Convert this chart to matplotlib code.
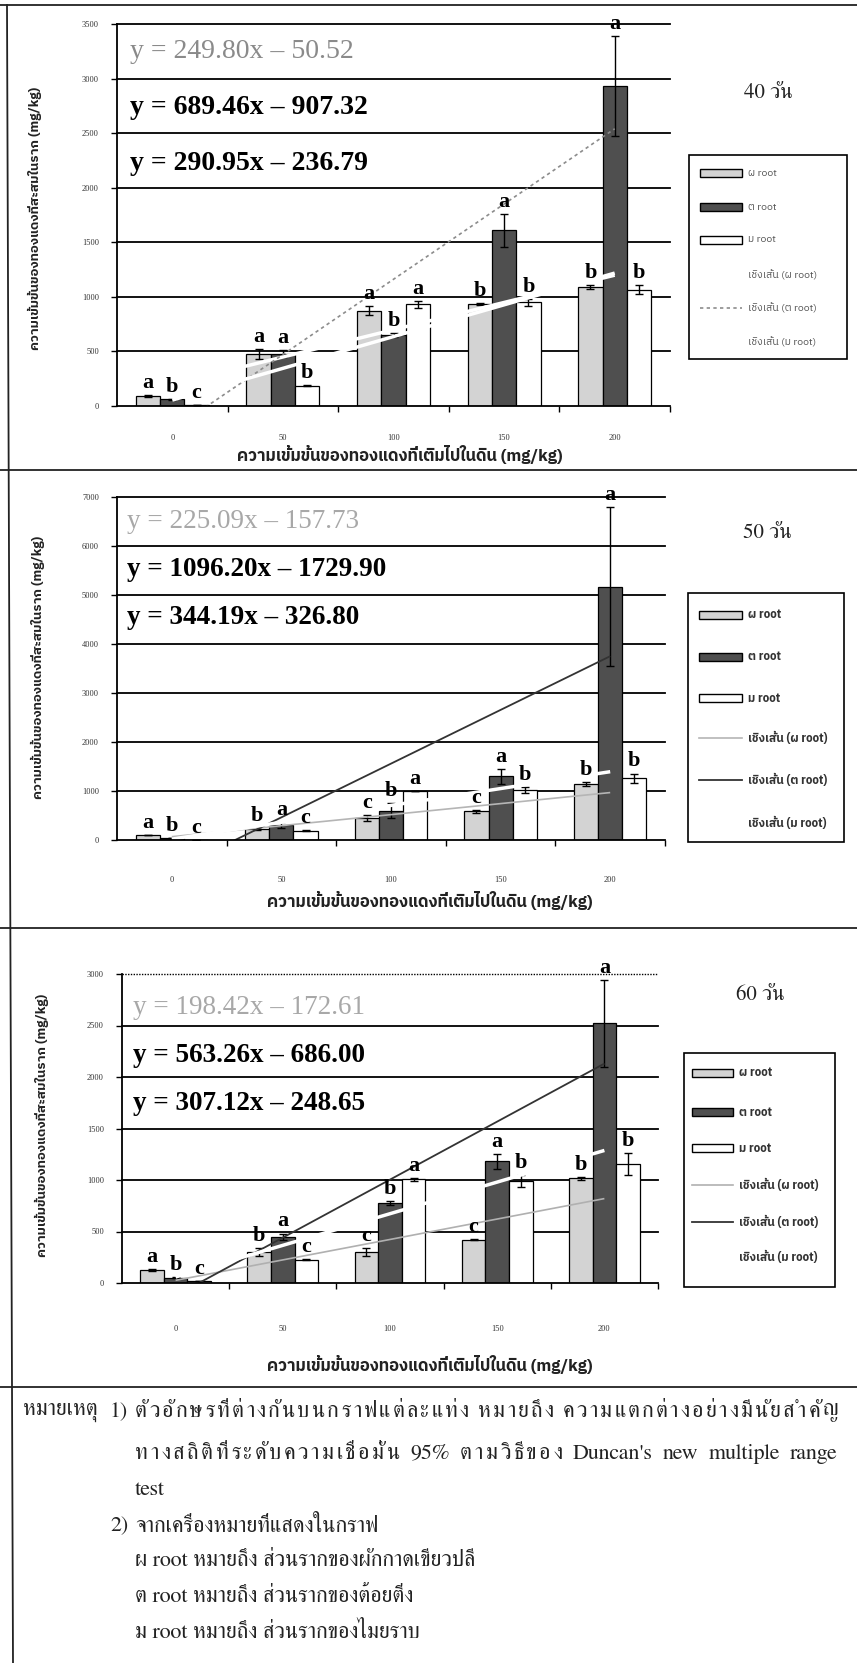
import numpy as np
import matplotlib
matplotlib.use("Agg")
import matplotlib.pyplot as plt
from matplotlib import font_manager
from matplotlib.patches import Rectangle
from matplotlib.lines import Line2D

# ---------------------------------------------------------------- data
concentrations = ["0", "50", "100", "150", "200"]
root_names = ["ผ root", "ต root", "ม root"]
trend_names = ["เชิงเส้น (ผ root)", "เชิงเส้น (ต root)", "เชิงเส้น (ม root)"]

# 40 days
d40_phak = [92, 480, 875, 935, 1090]
d40_toi = [60, 480, 650, 1610, 2930]
d40_mai = [5, 185, 930, 950, 1065]
d40_phak_err = [5, 45, 40, 10, 15]
d40_toi_err = [5, 35, 15, 150, 460]
d40_mai_err = [0, 5, 35, 30, 40]
d40_phak_sig = ["a", "a", "a", "b", "b"]
d40_toi_sig = ["b", "a", "b", "a", "a"]
d40_mai_sig = ["c", "b", "a", "b", "b"]
d40_slope = [249.80, 689.46, 290.95]
d40_icpt = [-50.52, -907.32, -236.79]

# 50 days
d50_phak = [100, 230, 450, 590, 1150]
d50_toi = [40, 300, 600, 1300, 5170]
d50_mai = [5, 190, 1000, 1020, 1256]
d50_phak_err = [5, 20, 60, 30, 40]
d50_toi_err = [5, 60, 150, 150, 1620]
d50_mai_err = [0, 10, 0, 60, 100]
d50_phak_sig = ["a", "b", "c", "c", "b"]
d50_toi_sig = ["b", "a", "b", "a", "a"]
d50_mai_sig = ["c", "c", "a", "b", "b"]
d50_slope = [225.09, 1096.20, 344.19]
d50_icpt = [-157.73, -1729.90, -326.80]

# 60 days
d60_phak = [123, 300, 300, 420, 1018]
d60_toi = [52, 450, 773, 1180, 2520]
d60_mai = [15, 227, 1007, 990, 1154]
d60_phak_err = [10, 40, 40, 5, 15]
d60_toi_err = [5, 30, 20, 70, 420]
d60_mai_err = [0, 5, 15, 60, 110]
d60_phak_sig = ["a", "b", "c", "c", "b"]
d60_toi_sig = ["b", "a", "b", "a", "a"]
d60_mai_sig = ["c", "c", "a", "b", "b"]
d60_slope = [198.42, 563.26, 307.12]
d60_icpt = [-172.61, -686.00, -248.65]

panel_titles = ["40 วัน", "50 วัน", "60 วัน"]
x_label = "ความเข้มข้นของทองแดงที่เติมไปในดิน (mg/kg)"
y_label = "ความเข้มข้นของทองแดงที่สะสมในราก (mg/kg)"

note_head = "หมายเหตุ"
note_lines = [
    ("1)", "ตัวอักษรที่ต่างกันบนกราฟแต่ละแท่ง หมายถึง ความแตกต่างอย่างมีนัยสำคัญ", True),
    ("", "ทางสถิติที่ระดับความเชื่อมั่น 95% ตามวิธีของ Duncan's new multiple range", True),
    ("", "test", False),
    ("2)", "จากเครื่องหมายที่แสดงในกราฟ", False),
    ("", "ผ root หมายถึง ส่วนรากของผักกาดเขียวปลี", False),
    ("", "ต root หมายถึง ส่วนรากของต้อยติ่ง", False),
    ("", "ม root หมายถึง ส่วนรากของไมยราบ", False),
]


# ---------------------------------------------------------------- fonts
def thai_capable_families():
    found = []
    try:
        from fontTools.ttLib import TTFont
    except Exception:
        return found
    for f in font_manager.fontManager.ttflist:
        if f.name in found:
            continue
        try:
            tt = TTFont(f.fname, fontNumber=0, lazy=True)
            cmap = tt.getBestCmap() or {}
            tt.close()
        except Exception:
            continue
        if 0x0E01 in cmap and 0x0E27 in cmap and 0x0E31 in cmap:
            found.append(f.name)
    return found


_thai = thai_capable_families()
_serif = sorted(_thai, key=lambda n: (0 if "Serif" in n else 1, n))
_sans = sorted(_thai, key=lambda n: (0 if ("Sans" in n and "Serif" not in n) else 1, n))
THAI = ([_serif[0]] if _serif else []) + ["DejaVu Sans"]
THAI_SANS = ([_sans[0]] if _sans else []) + ["DejaVu Sans"]
SERIF = ["Liberation Serif", "DejaVu Serif"]

# ---------------------------------------------------------------- layout helpers
W, H = 857, 1663
fig = plt.figure(figsize=(W / 100, H / 100), dpi=100)
fig.patch.set_facecolor("white")


def rect(l, t, r, b):
    return [l / W, 1 - b / H, (r - l) / W, (b - t) / H]


def fx(x):
    return x / W


def fy(y):
    return 1 - y / H


BAR_COLORS = ["#d3d3d3", "#4f4f4f", "#ffffff"]
BAR_W = 0.22


def draw_panel(p):
    ax = fig.add_axes(rect(*p["axes"]))
    ax.set_xlim(-0.5, 4.5)
    ax.set_ylim(0, p["ymax"])
    xs = np.arange(len(concentrations))
    offsets = [-BAR_W, 0.0, BAR_W]

    # horizontal gridlines
    ticks = np.arange(0, p["ymax"] + 1, p["ystep"])
    for t in ticks:
        if t == 0:
            continue
        top = t == ticks[-1]
        ax.axhline(t, color="black", lw=1.0 if (top and p["top_grid_ls"] != "-") else 1.3,
                   ls=p["top_grid_ls"] if top else "-", zorder=0.5, clip_on=False)

    for k in range(3):
        ax.bar(xs + offsets[k], p["vals"][k], BAR_W, color=BAR_COLORS[k],
               edgecolor="black", linewidth=0.9, zorder=2,
               yerr=p["errs"][k], capsize=3,
               error_kw=dict(ecolor="black", elinewidth=1.0, capthick=1.0, zorder=3))

    # linear trendlines, category index i corresponds to x = i + 1
    for k in range(3):
        ys = p["slope"][k] * (xs + 1) + p["icpt"][k]
        ax.plot(xs, ys, zorder=4, solid_capstyle="butt", **p["trend_style"][k])

    # significance letters
    for k in range(3):
        for i in xs:
            top = p["vals"][k][i] + p["errs"][k][i]
            ax.annotate(p["sig"][k][i], (xs[i] + offsets[k], top),
                        xytext=(0, 1.5), textcoords="offset points",
                        ha="center", va="bottom", fontsize=16,
                        fontweight="bold", family=SERIF, zorder=6,
                        annotation_clip=False)

    for s in ["top", "right"]:
        ax.spines[s].set_visible(False)
    for s in ["left", "bottom"]:
        ax.spines[s].set_linewidth(1.3)
        ax.spines[s].set_zorder(5)

    ax.set_yticks(ticks)
    ax.set_yticklabels([str(int(t)) for t in ticks], fontsize=6,
                       color="#333333", family=SERIF)
    ax.tick_params(axis="y", length=4, width=1.0, pad=p["ypad"])
    ax.set_xticks(xs)
    ax.set_xticklabels(concentrations, fontsize=6, color="#333333", family=SERIF)
    ax.tick_params(axis="x", length=0, pad=p["xpad"])
    ax.set_xticks(np.arange(0.5, 4.6, 1.0), minor=True)
    ax.tick_params(axis="x", which="minor", length=4, width=1.0, direction="out")

    # regression equations
    for k in range(3):
        m, c = p["slope"][k], p["icpt"][k]
        eq = f"y = {m:.2f}x \u2013 {abs(c):.2f}"
        ex, ey = p["eq_xy"][k]
        fig.text(fx(ex), fy(ey), eq, ha="left", va="center",
                 fontsize=p["eq_size"], family=SERIF,
                 fontweight="normal" if k == 0 else "bold",
                 color=p["eq_color0"] if k == 0 else "black")

    # panel title
    fig.text(fx(p["title_xy"][0]), fy(p["title_xy"][1]), p["title"],
             ha="center", va="center", fontsize=15, family=THAI, color="#222222")

    # axis titles
    fig.text(fx(p["ylab_xy"][0]), fy(p["ylab_xy"][1]), y_label, rotation=90,
             ha="center", va="center", fontsize=9.5, family=THAI_SANS,
             fontweight="bold", color="#222222")
    fig.text(fx(p["xlab_xy"][0]), fy(p["xlab_xy"][1]), x_label,
             ha="center", va="center", fontsize=12, family=THAI_SANS,
             fontweight="bold", color="#222222")

    # legend box
    l, t, r, b = p["legend"]
    lax = fig.add_axes(rect(l, t, r, b))
    lax.set_xlim(l, r)
    lax.set_ylim(b, t)
    lax.axis("off")
    lax.add_patch(Rectangle((l + 1, t + 1), r - l - 2, b - t - 2, fill=False,
                            edgecolor="black", lw=1.2))
    hx0, hx1 = p["legend_handle_x"]
    lw_txt = "bold" if p["legend_bold"] else "normal"
    for k in range(3):
        y = p["legend_rows"][k]
        lax.add_patch(Rectangle((hx0, y - 4), hx1 - hx0, 8, facecolor=BAR_COLORS[k],
                                edgecolor="black", lw=1.0))
        lax.text(hx1 + 6, y, root_names[k], ha="left", va="center",
                 fontsize=p["legend_fs"], family=THAI_SANS, fontweight=lw_txt,
                 color=p["legend_color"])
    for k in range(3):
        y = p["legend_rows"][k + 3]
        st = dict(p["trend_style"][k])
        st["lw"] = min(st.get("lw", 1.0), 1.3)
        lax.add_line(Line2D([hx0, hx1], [y, y], **st))
        lax.text(hx1 + 6, y, trend_names[k], ha="left", va="center",
                 fontsize=p["legend_fs"], family=THAI_SANS, fontweight=lw_txt,
                 color=p["legend_color"])
    return ax


WHITE_LINE = dict(color="white", lw=2.5)

panels = [
    dict(axes=(117, 24, 670, 406), ymax=3500, ystep=500, top_grid_ls="-",
         vals=[d40_phak, d40_toi, d40_mai],
         errs=[d40_phak_err, d40_toi_err, d40_mai_err],
         sig=[d40_phak_sig, d40_toi_sig, d40_mai_sig],
         slope=d40_slope, icpt=d40_icpt,
         trend_style=[WHITE_LINE, dict(color="#8c8c8c", lw=1.2, ls=(0, (2, 2))), WHITE_LINE],
         eq_xy=[(130, 52), (130, 108), (130, 163)], eq_size=20, eq_color0="#8a8a8a",
         title=panel_titles[0], title_xy=(768, 93),
         ylab_xy=(35, 218), xlab_xy=(400, 455), ypad=9, xpad=20,
         legend=(688, 154, 848, 360), legend_handle_x=(700, 742),
         legend_rows=[173, 207, 240, 275, 308, 342], legend_fs=7.5,
         legend_bold=False, legend_color="#555555"),
    dict(axes=(117, 497, 665, 840), ymax=7000, ystep=1000, top_grid_ls="-",
         vals=[d50_phak, d50_toi, d50_mai],
         errs=[d50_phak_err, d50_toi_err, d50_mai_err],
         sig=[d50_phak_sig, d50_toi_sig, d50_mai_sig],
         slope=d50_slope, icpt=d50_icpt,
         trend_style=[dict(color="#b5b5b5", lw=1.2), dict(color="#333333", lw=1.3), WHITE_LINE],
         eq_xy=[(127, 522), (127, 570), (127, 618)], eq_size=19.5, eq_color0="#a8a8a8",
         title=panel_titles[1], title_xy=(767, 533),
         ylab_xy=(38, 667), xlab_xy=(430, 900), ypad=9, xpad=26,
         legend=(687, 592, 845, 843), legend_handle_x=(699, 742),
         legend_rows=[615, 657, 698, 738, 780, 823], legend_fs=8.5,
         legend_bold=True, legend_color="#333333"),
    dict(axes=(122, 974, 658, 1283), ymax=3000, ystep=500, top_grid_ls=(0, (1, 1)),
         vals=[d60_phak, d60_toi, d60_mai],
         errs=[d60_phak_err, d60_toi_err, d60_mai_err],
         sig=[d60_phak_sig, d60_toi_sig, d60_mai_sig],
         slope=d60_slope, icpt=d60_icpt,
         trend_style=[dict(color="#b0b0b0", lw=1.2), dict(color="#333333", lw=1.3), WHITE_LINE],
         eq_xy=[(133, 1008), (133, 1055), (133, 1103)], eq_size=19.5, eq_color0="#a8a8a8",
         title=panel_titles[2], title_xy=(760, 995),
         ylab_xy=(42, 1125), xlab_xy=(430, 1365), ypad=9, xpad=30,
         legend=(683, 1052, 836, 1288), legend_handle_x=(692, 733),
         legend_rows=[1073, 1112, 1148, 1185, 1222, 1257], legend_fs=8.5,
         legend_bold=True, legend_color="#333333"),
]

for p in panels:
    draw_panel(p)

# ---------------------------------------------------------------- table frame + notes
frame = fig.add_axes([0, 0, 1, 1])
frame.set_xlim(0, W)
frame.set_ylim(H, 0)
frame.axis("off")
frame.set_zorder(-1)
for y in [5, 470, 928, 1387]:
    frame.plot([0, W], [y, y], color="#222222", lw=1.3)
frame.plot([7, 13], [5, H], color="#222222", lw=1.3)

NOTE_FS = 15.8
NOTE_KW = dict(va="center", fontsize=NOTE_FS, family=THAI, color="#222222")
renderer = fig.canvas.get_renderer()

# Thai above/below-base marks stay attached to the preceding base letter
THAI_MARKS = {0x0E31} | set(range(0x0E34, 0x0E3B)) | set(range(0x0E47, 0x0E4F))


def clusters(word):
    if not any(0x0E00 <= ord(ch) <= 0x0E7F for ch in word):
        return [word]
    out = []
    for ch in word:
        if out and ord(ch) in THAI_MARKS:
            out[-1] += ch
        else:
            out.append(ch)
    return out


def note_text(x0, x1, y, line, justify):
    if not justify:
        fig.text(fx(x0), fy(y), line, ha="left", **NOTE_KW)
        return
    # distributed justification: letter-spacing inside Thai words, wider gaps at spaces
    pieces, weights = [], []
    for wi, word in enumerate(line.split(" ")):
        for ci, cl in enumerate(clusters(word)):
            weights.append(0 if not pieces else (4 if ci == 0 else 1))
            pieces.append(cl)
    objs = [fig.text(0, fy(y), s, ha="left", **NOTE_KW) for s in pieces]
    widths = [o.get_window_extent(renderer).width for o in objs]
    extra = (x1 - x0) - sum(widths)
    unit = extra / max(sum(weights), 1)
    x = x0
    for o, w, wt in zip(objs, widths, weights):
        x += wt * unit
        o.set_x(fx(x))
        x += w


fig.text(fx(23), fy(1412), note_head, ha="left", **NOTE_KW)
note_y = [1412, 1454, 1490, 1526, 1561, 1597, 1633]
for (num, txt, just), y in zip(note_lines, note_y):
    if num:
        fig.text(fx(110), fy(y), num, ha="left", **NOTE_KW)
    note_text(135, 838, y, txt, just)

fig.savefig("out.png", dpi=100)
